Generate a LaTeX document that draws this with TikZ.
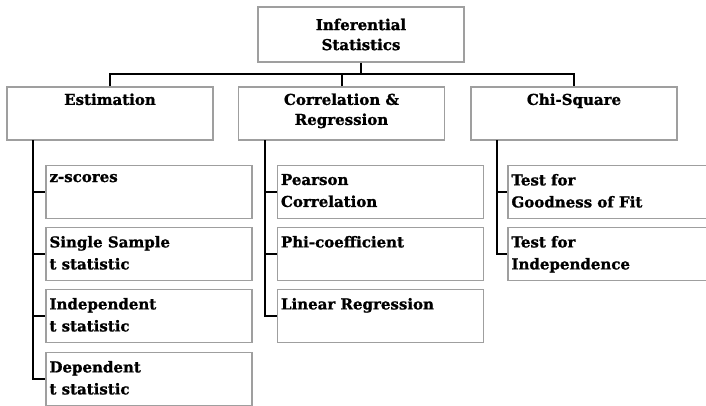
\documentclass[tikz,border=0pt]{standalone}
\usepackage{fontspec}
\setmainfont{DejaVu Serif}[BoldFeatures={FakeBold=1.2}]
\usetikzlibrary{positioning}

\begin{document}
\begin{tikzpicture}[x=1pt,y=-1pt,
  box/.style={rectangle,draw=gray!75,line width=1.4pt,minimum width=206pt,minimum height=53pt,inner sep=0pt},
  boxtext/.style={font=\bfseries\fontsize{15}{20}\selectfont,inner sep=0pt,text=black},
  subtext/.style={boxtext,font=\bfseries\fontsize{15}{22}\selectfont,align=left,anchor=north west,xshift=4pt,yshift=-9pt},
  link/.style={black,line width=2pt}]
\clip (0,0) rectangle (706,405);
\useasboundingbox (0,0) rectangle (706,405);

\node[box,boxtext,align=center,minimum height=55pt] (infer) at (361,34.5) {Inferential\\Statistics};

\node[box,label={[boxtext,align=center,anchor=north,yshift=-7pt]north:Estimation}] (estim) at (110,113.5) {};
\node[box,label={[boxtext,align=center,anchor=north,yshift=-7pt]north:{Correlation \&\\Regression}}] (correl) at (341.5,113.5) {};
\node[box,label={[boxtext,align=center,anchor=north,yshift=-7pt]north:Chi-Square}] (chisq) at (574,113.5) {};

\node[box,label={[subtext]north west:z-scores}] (zscore) at (149,192) {};
\node[box,label={[subtext]north west:{Single Sample\\t statistic}}] (single) at (149,254) {};
\node[box,label={[subtext]north west:{Independent\\t statistic}}] (indep) at (149,316) {};
\node[box,label={[subtext]north west:{Dependent\\t statistic}}] (depend) at (149,379) {};

\node[box,label={[subtext]north west:{Pearson\\Correlation}}] (pearson) at (380.5,192) {};
\node[box,label={[subtext]north west:Phi-coefficient}] (phi) at (380.5,254) {};
\node[box,label={[subtext]north west:Linear Regression}] (linreg) at (380.5,316) {};

\node[box,label={[subtext]north west:{Test for\\Goodness of Fit}}] (goodfit) at (611,192) {};
\node[box,label={[subtext]north west:{Test for\\Independence}}] (testind) at (611,254) {};

\coordinate (bus) at (361,74);
\draw[link] (infer.south) -- (bus);
\draw[link] (estim.north) |- (bus) -| (chisq.north);
\draw[link] (correl.north) -- (correl.north |- bus);

\coordinate (estspine) at (33,140);
\coordinate (corspine) at (265,140);
\coordinate (chispine) at (497,140);
\foreach \c in {zscore,single,indep,depend} \draw[link] (estspine) |- (\c.west);
\foreach \c in {pearson,phi,linreg} \draw[link] (corspine) |- (\c.west);
\foreach \c in {goodfit,testind} \draw[link] (chispine) |- (\c.west);

\end{tikzpicture}
\end{document}
